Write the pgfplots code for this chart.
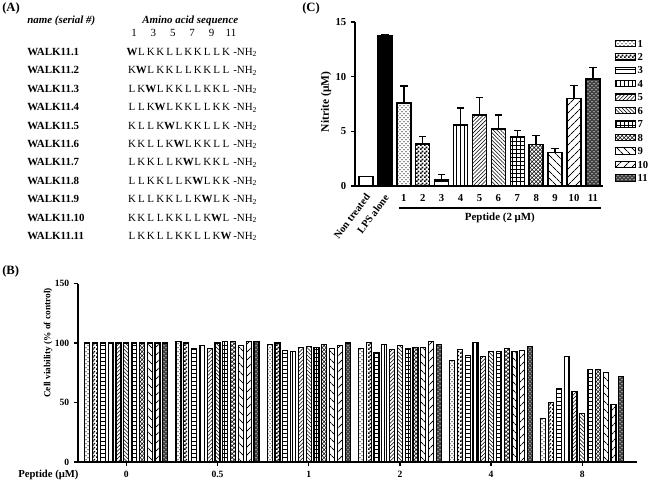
\documentclass[border=0pt]{standalone}
\usepackage{fontspec}
\setmainfont{Liberation Serif}
\usepackage{pgfplots}
\pgfplotsset{compat=1.18}
\usepackage{pgfplotstable}
\usetikzlibrary{patterns,patterns.meta}

\pgfdeclarepatternformonly{chk}{\pgfqpoint{0pt}{0pt}}{\pgfqpoint{3pt}{3pt}}{\pgfqpoint{3pt}{3pt}}{%
 \pgfpathrectangle{\pgfqpoint{0pt}{0pt}}{\pgfqpoint{1.5pt}{1.5pt}}%
 \pgfpathrectangle{\pgfqpoint{1.5pt}{1.5pt}}{\pgfqpoint{1.5pt}{1.5pt}}%
 \pgfusepath{fill}}

\pgfplotsset{
 p1/.style={draw=black, pattern=crosshatch dots},
 p2/.style={draw=black, pattern=chk},
 p3/.style={draw=black, pattern=horizontal lines},
 p4/.style={draw=black, pattern=vertical lines},
 p5/.style={draw=black, pattern={Lines[angle=45,distance=2pt,line width=0.4pt]}},
 p6/.style={draw=black, pattern={Lines[angle=-45,distance=2pt,line width=0.4pt]}},
 p7/.style={draw=black, pattern=grid},
 p8/.style={draw=black, pattern=crosshatch},
 p9/.style={draw=black, pattern={Lines[angle=-45,distance=4pt,line width=0.7pt]}},
 p10/.style={draw=black, pattern={Lines[angle=45,distance=4pt,line width=0.7pt]}},
 p11/.style={draw=black, fill=black!75, postaction={pattern=crosshatch dots, pattern color=white}},
}

\pgfplotstableread{
x p1 p2 p3 p4 p5 p6 p7 p8 p9 p10 p11
0 100 100 100 100 100 100 100 100 100 100 100
1 101 100 95 98 95 100 101 101 98 101 101
2 98.5 100 93.5 92.5 96.5 97 96.5 98.5 95.5 98 100
3 95 100.5 92 99 94.5 98 95.5 96 96 101 99
4 85.5 94.5 89.5 100.5 88.5 93 93 95 92.5 94 97
5 36.5 50 62 89 59.5 41 78 78 75 48 72
}\viab

\newcommand\hdf{\bfseries\fontsize{9.5}{10}\selectfont}
\newcommand\nmf{\bfseries\fontsize{8.2}{9}\selectfont}
\newcommand\sqf{\fontsize{8.2}{9}\selectfont}
\newcommand\sq[2]{\foreach \c [count=\k] in {#2}{\node[font=\sqf, inner sep=0pt, anchor=base] at ({132+9.4*(\k-1)},#1+3.5) {\c};}
 \node[font=\sqf, inner sep=0pt, anchor=base west] at (233,#1+3.5) {-NH\textsubscript{2}};}
\newcommand\nm[2]{\node[font=\nmf, inner sep=0pt, anchor=base west] at (27,#1+3.5) {#2};}

\begin{document}
\begin{tikzpicture}
\begin{scope}[x=0.75pt,y=-0.75pt]
\useasboundingbox (0,0) rectangle (651,481);
\node[font=\hdf, inner sep=0pt, anchor=west] at (2,8) {(A)};
\node[font=\hdf, inner sep=0pt, anchor=west] at (2,271) {(B)};
\node[font=\hdf, inner sep=0pt, anchor=west] at (302,8) {(C)};
\node[font=\nmf\itshape, inner sep=0pt, anchor=base west] at (27,23) {name (serial \#)};
\node[font=\nmf\itshape, inner sep=0pt, anchor=base west] at (142,23) {Amino acid sequence};
\foreach \xx/\t in {134/1,153.4/3,172.8/5,192.2/7,211.6/9,231/11}{\node[font=\sqf, inner sep=0pt, anchor=base] at (\xx,36.5) {\t};}
\nm{52}{WALK11.1}  \sq{52}{\textbf{W},L,K,K,L,L,K,K,L,L,K}
\nm{70.4}{WALK11.2}  \sq{70.4}{K,\textbf{W},L,K,K,L,L,K,K,L,L}
\nm{88.8}{WALK11.3}  \sq{88.8}{L,K,\textbf{W},L,K,K,L,L,K,K,L}
\nm{107.2}{WALK11.4} \sq{107.2}{L,L,K,\textbf{W},L,K,K,L,L,K,K}
\nm{125.6}{WALK11.5} \sq{125.6}{K,L,L,K,\textbf{W},L,K,K,L,L,K}
\nm{144}{WALK11.6}   \sq{144}{K,K,L,L,K,\textbf{W},L,K,K,L,L}
\nm{162.4}{WALK11.7} \sq{162.4}{L,K,K,L,L,K,\textbf{W},L,K,K,L}
\nm{180.8}{WALK11.8} \sq{180.8}{L,L,K,K,L,L,K,\textbf{W},L,K,K}
\nm{199.2}{WALK11.9} \sq{199.2}{K,L,L,K,K,L,L,K,\textbf{W},L,K}
\nm{217.6}{WALK11.10} \sq{217.6}{K,K,L,L,K,K,L,L,K,\textbf{W},L}
\nm{236}{WALK11.11}  \sq{236}{L,K,K,L,L,K,K,L,L,K,\textbf{W}}
\node[font=\bfseries\fontsize{7}{8}\selectfont, rotate=90] at (48,343) {Cell viability (\% of control)};
\node[font=\bfseries\fontsize{8}{9}\selectfont, anchor=west, inner sep=0pt] at (18,475) {Peptide (μM)};
\node[font=\bfseries\fontsize{8.6}{9}\selectfont, rotate=90] at (326,102) {Nitrite (μM)};
\end{scope}

% Panel B
\begin{axis}[
 at={(58.5pt,-346.5pt)}, anchor=south west,
 scale only axis, width=419.25pt, height=133.875pt,
 xmin=-0.53, xmax=5.6, ymin=0, ymax=150,
 axis lines=left, axis line style={line width=1.1pt,-},
 ybar=2.1pt, bar width=3.75pt,
 xtick={0,1,2,3,4,5}, xticklabels={0,0.5,1,2,4,8},
 ytick={0,50,100,150},
 tick align=outside, major tick length=3pt,
 tick style={line width=1pt, black},
 ticklabel style={font=\bfseries\fontsize{7.2}{8}\selectfont},
 /pgf/number format/assume math mode=true,
 every axis plot/.append style={line width=0.8pt},
]
\pgfplotsinvokeforeach{1,...,11}{\addplot[p#1] table[x=x,y=p#1]{\viab};}
\end{axis}

% Panel C
\begin{axis}[
 at={(266.25pt,-139.5pt)}, anchor=south west,
 scale only axis, width=186pt, height=123pt,
 xmin=-0.58, xmax=12.53, ymin=0, ymax=15,
 axis lines=left, axis line style={line width=1.1pt,-},
 ybar, bar width=10.5pt,
 every axis plot/.append style={line width=1.1pt},
 every axis plot post/.append style={bar shift=0pt,
   legend image code/.code={\draw[##1,line width=0.8pt] (0pt,-2.4pt) rectangle (15pt,2.4pt);}},
 xtick={2,3,4,5,6,7,8,9,10,11,12}, xticklabels={1,2,3,4,5,6,7,8,9,10,11},
 x tick style={draw=none},
 ytick={0,5,10,15},
 tick align=outside, major tick length=3pt,
 y tick style={line width=1pt, black},
 ticklabel style={font=\bfseries\fontsize{8}{9}\selectfont},
 /pgf/number format/assume math mode=true,
 clip=false,
 error bars/error bar style={line width=1.1pt, black},
 error bars/error mark options={rotate=90, mark size=2.8pt, line width=1.1pt, black},
 legend entries={1,2,3,4,5,6,7,8,9,10,11},
 legend cell align=left,
 legend style={at={(1.048,0.902)}, anchor=north west, draw=none, fill=none,
   font=\bfseries\fontsize{8}{8}\selectfont, row sep=2.6pt, inner sep=0pt,
   nodes={inner sep=1pt, text height=5.5pt, text depth=0pt}},
]
\addplot[draw=black, fill=white, forget plot] coordinates {(0,0.85)};
\addplot[draw=black, fill=black, forget plot, error bars/.cd, y dir=plus, y explicit] coordinates {(1,13.7) +- (0,0.1)};
\addplot[p1, error bars/.cd, y dir=plus, y explicit] coordinates {(2,7.6) +- (0,1.55)};
\addplot[p2, error bars/.cd, y dir=plus, y explicit] coordinates {(3,3.85) +- (0,0.7)};
\addplot[p3, error bars/.cd, y dir=plus, y explicit] coordinates {(4,0.55) +- (0,0.5)};
\addplot[p4, error bars/.cd, y dir=plus, y explicit] coordinates {(5,5.6) +- (0,1.55)};
\addplot[p5, error bars/.cd, y dir=plus, y explicit] coordinates {(6,6.5) +- (0,1.6)};
\addplot[p6, error bars/.cd, y dir=plus, y explicit] coordinates {(7,5.2) +- (0,1.3)};
\addplot[p7, error bars/.cd, y dir=plus, y explicit] coordinates {(8,4.5) +- (0,0.6)};
\addplot[p8, error bars/.cd, y dir=plus, y explicit] coordinates {(9,3.8) +- (0,0.8)};
\addplot[p9, error bars/.cd, y dir=plus, y explicit] coordinates {(10,3.05) +- (0,0.4)};
\addplot[p10, error bars/.cd, y dir=plus, y explicit] coordinates {(11,8.0) +- (0,1.2)};
\addplot[p11, error bars/.cd, y dir=plus, y explicit] coordinates {(12,9.8) +- (0,1.05)};
\node[font=\bfseries\fontsize{7.8}{9}\selectfont, rotate=53, anchor=east, inner sep=0pt] at (axis cs:0.1,-0.8) {Non treated};
\node[font=\bfseries\fontsize{7.8}{9}\selectfont, rotate=53, anchor=east, inner sep=0pt] at (axis cs:1.1,-0.9) {LPS alone};
\draw[line width=1.1pt] (axis cs:1.75,-2.0) -- (axis cs:12.42,-2.0);
\node[font=\bfseries\fontsize{8.2}{9}\selectfont] at (axis cs:7.08,-2.93) {Peptide (2 μM)};
\end{axis}
\end{tikzpicture}
\end{document}
